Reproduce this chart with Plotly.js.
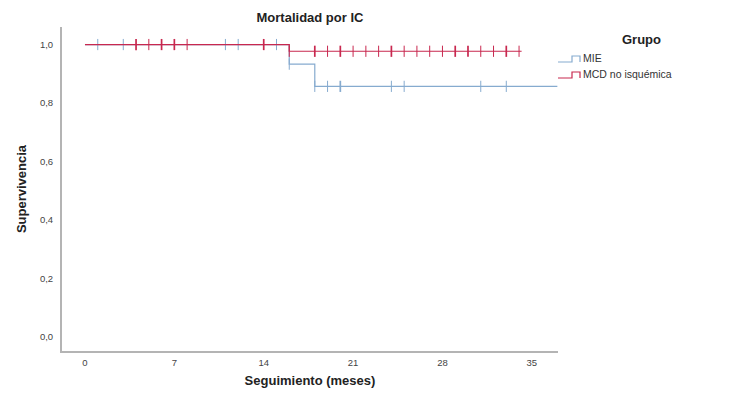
<!DOCTYPE html>
<html>
<head>
<meta charset="utf-8">
<script src="https://cdn.plot.ly/plotly-3.0.1.min.js"></script>
<style>html,body{margin:0;padding:0;background:#fff;}#chart{width:750px;height:407px;}</style>
</head>
<body>
<div id="chart"></div>
<script>
// Kaplan-Meier step data (time in months, survival)
const mieTimes = [0, 16, 18, 37];
const mieSurv = [1.0, 0.933, 0.857, 0.857];
const mcdTimes = [0, 16, 34.2];
const mcdSurv = [1.0, 0.977, 0.977];

// Censored observations: time, survival at that time, count
const mieCensTimes = [1, 3, 11, 12, 15, 16, 18, 19, 20, 24, 25, 31, 33];
const mieCensSurv = [1, 1, 1, 1, 1, 0.933, 0.857, 0.857, 0.857, 0.857, 0.857, 0.857, 0.857];
const mieCensCount = [1, 1, 1, 1, 1, 1, 1, 1, 2, 1, 1, 1, 1];

const mcdCensTimes = [4, 5, 6, 7, 8, 14, 16, 18, 19, 20, 21, 22, 23, 24, 25, 26, 27, 28, 29, 30, 31, 32, 33, 34];
const mcdCensSurv = [1, 1, 1, 1, 1, 1, 0.977, 0.977, 0.977, 0.977, 0.977, 0.977, 0.977, 0.977, 0.977, 0.977, 0.977, 0.977, 0.977, 0.977, 0.977, 0.977, 0.977, 0.977];
const mcdCensCount = [2, 1, 2, 2, 1, 2, 1, 2, 1, 2, 1, 1, 1, 2, 1, 1, 1, 1, 2, 2, 1, 1, 2, 1];

const xTicks = [0, 7, 14, 21, 28, 35];
const yTicks = [0, 0.2, 0.4, 0.6, 0.8, 1.0];
const yTickText = ["0,0", "0,2", "0,4", "0,6", "0,8", "1,0"];
const groupNames = ["MIE", "MCD no isquémica"];

const blue = "#86abcf";
const red = "#c8284f";

const traces = [
  {x: mieTimes, y: mieSurv, mode: "lines", line: {shape: "hv", color: blue, width: 1.2}, name: groupNames[0], showlegend: false, hoverinfo: "skip"},
  {x: mieCensTimes, y: mieCensSurv, mode: "markers", marker: {symbol: "line-ns", size: 8, color: blue, line: {color: blue, width: mieCensCount.map(c => 1 + 0.7 * (c - 1))}}, showlegend: false, hoverinfo: "skip"},
  {x: mcdTimes, y: mcdSurv, mode: "lines", line: {shape: "hv", color: red, width: 1.2}, name: groupNames[1], showlegend: false, hoverinfo: "skip"},
  {x: mcdCensTimes, y: mcdCensSurv, mode: "markers", marker: {symbol: "line-ns", size: 8, color: red, line: {color: red, width: mcdCensCount.map(c => 1 + 0.7 * (c - 1))}}, showlegend: false, hoverinfo: "skip"}
];

// plot area in pixels: x 62..558, y 27..351 -> paper coordinates
const L = 62, R = 558, T = 27, B = 351;
function px(x){ return (x - L) / (R - L); }
function py(y){ return (B - y) / (B - T); }
function stepPath(y){
  return `M ${px(558)} ${py(y+3)} L ${px(572)} ${py(y+3)} L ${px(572)} ${py(y-3)} L ${px(580)} ${py(y-3)} L ${px(580)} ${py(y+3)}`;
}
const shapes = [
  {type: "path", xref: "paper", yref: "paper", path: stepPath(59), line: {color: blue, width: 1.2}},
  {type: "path", xref: "paper", yref: "paper", path: stepPath(75), line: {color: red, width: 1.2}}
];

const layout = {
  width: 750, height: 407,
  margin: {l: L, r: 750 - R, t: T, b: 407 - B},
  paper_bgcolor: "#fff", plot_bgcolor: "#fff",
  font: {family: "Liberation Sans, Arial, sans-serif", color: "#333"},
  title: {text: "<b>Mortalidad por IC</b>", x: 0.4133, xanchor: "center", y: 0.958, yanchor: "middle", font: {size: 13, color: "#222"}},
  xaxis: {
    range: [-1.8, 37.05], tickvals: xTicks, ticktext: xTicks.map(String),
    showgrid: false, zeroline: false, showline: true, linecolor: "#b4b4b4", linewidth: 2,
    ticks: "", tickfont: {size: 9.5, color: "#444"}, ticklabelstandoff: 2,
    title: {text: "<b>Seguimiento (meses)</b>", font: {size: 13, color: "#222"}, standoff: 8}
  },
  yaxis: {
    range: [-0.048, 1.06], tickvals: yTicks, ticktext: yTickText,
    showgrid: false, zeroline: false, showline: true, linecolor: "#b4b4b4", linewidth: 2,
    ticks: "", tickfont: {size: 9.5, color: "#444"}, ticklabelstandoff: 5,
    title: {text: "<b>Supervivencia</b>", font: {size: 13, color: "#222"}, standoff: 10}
  },
  shapes: shapes,
  annotations: [
    {xref: "paper", yref: "paper", x: px(641), y: py(40), text: "<b>Grupo</b>", showarrow: false, xanchor: "center", yanchor: "middle", font: {size: 13, color: "#222"}},
    {xref: "paper", yref: "paper", x: px(581), y: py(58), text: groupNames[0], showarrow: false, xanchor: "left", yanchor: "middle", font: {size: 10.5, color: "#333"}},
    {xref: "paper", yref: "paper", x: px(581), y: py(74), text: groupNames[1], showarrow: false, xanchor: "left", yanchor: "middle", font: {size: 10.5, color: "#333"}}
  ],
  showlegend: false
};

Plotly.newPlot("chart", traces, layout, {displayModeBar: false, staticPlot: true});
</script>
</body>
</html>
